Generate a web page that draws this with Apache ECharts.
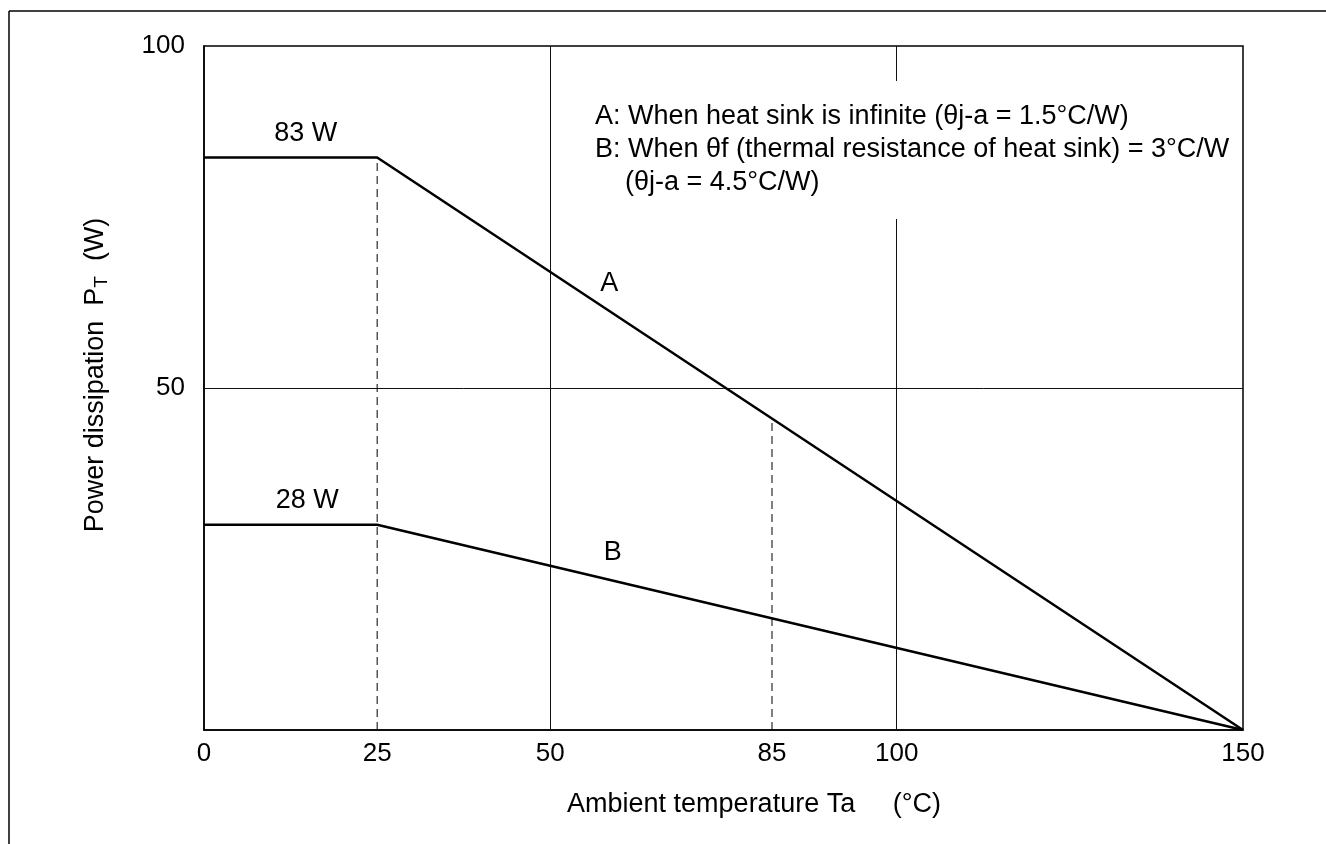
<!DOCTYPE html>
<html>
<head>
<meta charset="utf-8">
<script src="https://cdn.jsdelivr.net/npm/echarts@6/dist/echarts.min.js"></script>
<style>
  html, body { margin: 0; padding: 0; background: #fff; }
  #chart { width: 1326px; height: 844px; }
</style>
</head>
<body>
<div id="chart"></div>
<script>
// Datos
const curveA = [[0, 83.7], [25, 83.7], [150, 0]]
const curveB = [[0, 30], [25, 30], [150, 0]]
// líneas de referencia discontinuas (la marca "85" está dibujada en ~82 de la escala)
const dashed25 = [[25, 0], [25, 83.7]]
const dashed85 = [[82, 0], [82, 45.6]]
const xTickValues = [0, 25, 50, 82, 100, 150]
const xTickLabels = ['0', '25', '50', '85', '100', '150']
const gridX = [50, 100]
const gridY = [50]
const annotations = [
  { name: '83 W', value: [14.7, 87.2] },
  { name: '28 W', value: [14.9, 33.5] },
  { name: 'A', value: [58.5, 65.3] },
  { name: 'B', value: [59.0, 25.9] }
]
const noteLines = [
  'A: When heat sink is infinite (θj-a = 1.5°C/W)',
  'B: When θf (thermal resistance of heat sink) = 3°C/W',
  '    (θj-a = 4.5°C/W)'
]

const FONT = "'Liberation Sans', Arial, sans-serif"
const chart = echarts.init(document.getElementById('chart'), null, { renderer: 'canvas' })

const option = {
  backgroundColor: '#fff',
  animation: false,
  textStyle: { fontFamily: FONT, color: '#000' },
  grid: {
    left: 204, top: 46, right: 83, bottom: 114,
    show: true, borderColor: '#000', borderWidth: 1.5, containLabel: false
  },
  xAxis: {
    type: 'value', min: 0, max: 150,
    axisLine: { show: true, lineStyle: { color: '#000', width: 1.5 } },
    axisTick: { show: false },
    splitLine: { show: false },
    axisLabel: {
      customValues: xTickValues,
      formatter: v => xTickLabels[xTickValues.indexOf(v)] ?? '',
      fontSize: 26, color: '#000', margin: 11, fontFamily: FONT
    },
    name: 'Ambient temperature Ta     (°C)',
    nameLocation: 'middle',
    nameGap: 61,
    nameTextStyle: { fontSize: 27, color: '#000', fontFamily: FONT, padding: [0, 0, 0, 61] }
  },
  yAxis: {
    type: 'value', min: 0, max: 100, interval: 50,
    axisLine: { show: true, lineStyle: { color: '#000', width: 1.5 } },
    axisTick: { show: false },
    splitLine: { show: false },
    axisLabel: {
      formatter: v => (v === 0 ? '' : String(v)),
      fontSize: 26, color: '#000', margin: 19, fontFamily: FONT
    },
    name: '{a|Power dissipation  P}{s|T}{a|  (W)}',
    nameLocation: 'middle',
    nameRotate: 90,
    nameGap: 93,
    nameTextStyle: {
      padding: [0, 0, 0, 26],
      rich: {
        a: { fontSize: 27, color: '#000', fontFamily: FONT },
        s: { fontSize: 19, color: '#000', fontFamily: FONT, verticalAlign: 'bottom', padding: [11, 0, 0, 0] }
      }
    }
  },
  graphic: [
    { type: 'line', shape: { x1: 9, y1: 11, x2: 1326, y2: 11 }, style: { stroke: '#000', lineWidth: 1.5 } },
    { type: 'line', shape: { x1: 9, y1: 11, x2: 9, y2: 844 }, style: { stroke: '#000', lineWidth: 1.5 } },
    {
      type: 'text', left: 588, top: 81, z: 100,
      style: {
        text: noteLines.join('\n'),
        font: '27px ' + FONT,
        fill: '#000',
        lineHeight: 33,
        backgroundColor: '#fff',
        padding: [19, 8, 20, 7]
      }
    }
  ],
  series: [
    {
      name: 'grid', type: 'line', data: [], z: 1,
      markLine: {
        silent: true, symbol: 'none', label: { show: false },
        lineStyle: { color: '#111', width: 1, type: 'solid' },
        data: [...gridX.map(x => ({ xAxis: x })), ...gridY.map(y => ({ yAxis: y }))]
      }
    },
    {
      name: 'A', type: 'line', data: curveA, symbol: 'none', z: 5,
      lineStyle: { color: '#000', width: 2.5 }
    },
    {
      name: 'B', type: 'line', data: curveB, symbol: 'none', z: 5,
      lineStyle: { color: '#000', width: 2.5 }
    },
    {
      name: 'd25', type: 'line', data: dashed25, symbol: 'none', z: 3,
      lineStyle: { color: '#000', width: 1, type: [8, 5] }
    },
    {
      name: 'd85', type: 'line', data: dashed85, symbol: 'none', z: 3,
      lineStyle: { color: '#000', width: 1, type: [8, 5] }
    },
    {
      name: 'labels', type: 'scatter', data: annotations, symbolSize: 0, z: 6,
      itemStyle: { opacity: 1 },
      label: {
        show: true, position: 'inside', formatter: p => p.name,
        fontSize: 27, color: '#000', fontFamily: FONT, textBorderWidth: 0, opacity: 1
      }
    }
  ]
}

chart.setOption(option)
window.addEventListener('resize', () => chart.resize())
</script>
</body>
</html>
